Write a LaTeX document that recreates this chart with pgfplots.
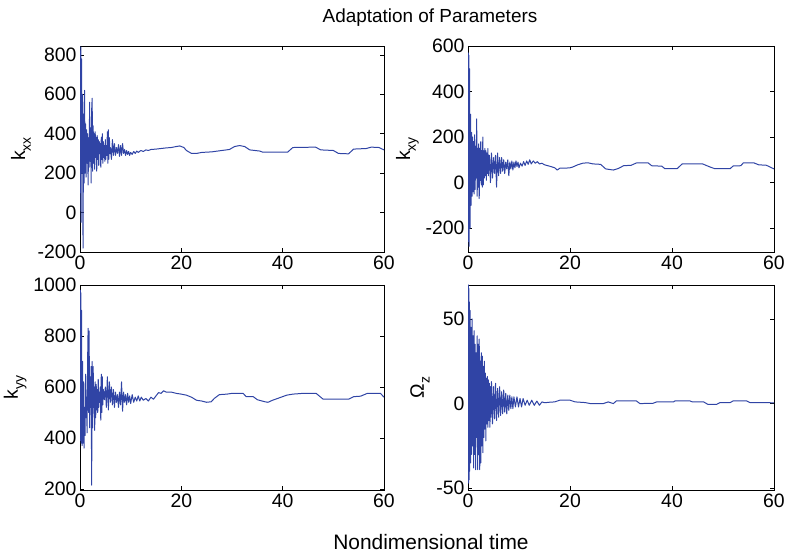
\documentclass[border=0pt]{standalone}
\usepackage{fontspec}
\setmainfont{Liberation Sans}
\usepackage{pgfplots}
\pgfplotsset{compat=1.18}
\definecolor{lineblue}{RGB}{48,68,165}
\newcommand{\sub}[1]{\raisebox{-0.55ex}{\fontsize{14}{16}\selectfont #1}}
\pgfplotsset{myax/.style={
  scale only axis, xmin=0, xmax=60, xtick={0,20,40,60},
  tick align=inside, major tick length=4bp,
  axis line style={line width=0.7pt},
  every tick/.style={black, line width=0.6pt},
  ticklabel style={font=\fontsize{19.5}{21}\selectfont},
  /pgf/number format/assume math mode=true,
  /pgf/number format/1000 sep={},
  ylabel style={font=\fontsize{19.5}{21}\selectfont},
  no markers,
  cycle list={{lineblue}},
  every axis plot post/.append style={line width=1.0pt, line join=round},
}}
\begin{document}
\begin{tikzpicture}
\path[use as bounding box] (0bp,0bp) rectangle (788bp,554bp);
\node[font=\fontsize{19}{21}\selectfont] at (430bp,536bp) {Adaptation of Parameters};
\node[font=\fontsize{21}{23}\selectfont] at (431bp,12bp) {Nondimensional time};
% k_xx
\begin{axis}[myax, at={(80bp,302bp)}, anchor=south west, width=304bp, height=206bp,
  ymin=-200, ymax=845, ytick={-200,0,200,400,600,800}, ylabel={k\sub{xx}}]
\addplot coordinates {(0.00,300)(0.05,820)(0.10,100)(0.15,840)(0.20,-50)(0.30,780)(0.40,200)(0.50,600)(0.60,-180)(0.70,500)(0.80,150)(0.90,620)(1.00,200)(1.10,450)(1.20,180)(1.30,420)(1.40,250)(1.50,400)(1.60,140)(1.70,380)(1.80,230)(1.90,560)(2.00,260)(2.10,430)(2.20,150)(2.30,520)(2.40,580)(2.50,210)(2.60,440)(2.70,250)(2.80,400)(2.90,220)(3.00,410)(3.10,280)(3.20,380)(3.30,210)(3.40,390)(3.50,270)(3.60,370)(3.70,240)(3.80,360)(3.90,300)(4.00,350)(4.10,230)(4.20,380)(4.30,270)(4.40,400)(4.50,250)(4.60,360)(4.70,280)(4.80,340)(4.90,260)(5.00,370)(5.10,270)(5.20,340)(5.30,290)(5.40,410)(5.50,250)(5.60,420)(5.70,270)(5.80,380)(5.90,300)(6.00,330)(6.20,270)(6.40,370)(6.60,290)(6.80,350)(7.00,290)(7.20,330)(7.40,300)(7.60,345)(7.80,285)(8.00,340)(8.20,290)(8.40,350)(8.60,300)(8.80,320)(9.00,290)(9.20,315)(9.40,295)(9.60,310)(9.80,290)(10.0,305)(10.3,295)(10.6,310)(10.9,300)(11.2,312)(11.5,305)(12.0,315)(12.5,310)(13.0,318)(13.5,315)(14.0,320)(15.0,322)(16.0,325)(17.0,328)(18.0,330)(19.0,335)(19.7,338)(20.5,330)(21.0,315)(22.0,300)(23.0,300)(24.0,305)(26.0,308)(28.0,315)(29.5,320)(30.5,335)(31.5,340)(32.5,335)(33.5,318)(35.5,312)(36.0,307)(41.0,307)(42.0,330)(46.5,332)(47.5,318)(50.0,315)(51.0,300)(53.0,298)(54.0,322)(56.5,325)(57.5,332)(59.0,330)(60.0,318)};
\end{axis}
% k_xy
\begin{axis}[myax, at={(468bp,302bp)}, anchor=south west, width=306bp, height=206bp,
  ymin=-305, ymax=600, ytick={-200,0,200,400,600}, ylabel={k\sub{xy}}]
\addplot coordinates {(0.00,0)(0.05,570)(0.10,-260)(0.15,560)(0.20,-280)(0.30,500)(0.40,-200)(0.50,300)(0.60,-100)(0.70,220)(0.80,-60)(0.90,200)(1.00,-40)(1.10,180)(1.20,-50)(1.30,210)(1.40,-30)(1.50,160)(1.60,20)(1.70,280)(1.80,-60)(1.90,150)(2.00,-20)(2.10,170)(2.20,-70)(2.30,150)(2.40,10)(2.50,180)(2.60,-10)(2.70,140)(2.80,-20)(2.90,200)(3.00,-10)(3.10,140)(3.20,20)(3.30,150)(3.40,30)(3.50,140)(3.60,10)(3.70,130)(3.80,40)(3.90,150)(4.00,30)(4.20,120)(4.40,0)(4.60,130)(4.80,20)(5.00,110)(5.20,40)(5.40,120)(5.60,-20)(5.80,130)(6.00,30)(6.20,110)(6.40,40)(6.60,110)(6.80,50)(7.00,100)(7.20,40)(7.40,90)(7.60,60)(7.80,100)(8.00,30)(8.20,90)(8.40,60)(8.60,95)(8.80,55)(9.00,90)(9.20,65)(9.40,95)(9.60,70)(9.80,90)(10.0,65)(10.3,85)(10.6,72)(10.9,92)(11.2,75)(11.5,95)(11.8,80)(12.1,100)(12.4,82)(12.8,95)(13.2,85)(13.6,92)(14.0,82)(14.5,85)(15.0,78)(16.0,72)(17.0,65)(17.5,55)(18.0,63)(19.0,63)(20.0,65)(20.5,68)(21.5,78)(22.5,85)(23.5,87)(24.5,82)(26.0,80)(27.0,60)(28.5,55)(29.5,62)(30.5,74)(32.0,76)(33.0,86)(35.3,87)(36.0,74)(38.0,72)(38.6,61)(41.0,61)(42.0,82)(46.0,82)(47.5,68)(48.4,61)(51.4,61)(52.0,73)(53.5,74)(54.0,87)(56.0,87)(57.0,78)(58.5,76)(60.0,60)};
\end{axis}
% k_yy
\begin{axis}[myax, at={(80bp,64bp)}, anchor=south west, width=304bp, height=205bp,
  ymin=196, ymax=1000, ytick={200,400,600,800,1000}, ylabel={k\sub{yy}}]
\addplot coordinates {(0.00,400)(0.05,980)(0.10,390)(0.15,970)(0.20,380)(0.30,900)(0.40,370)(0.50,700)(0.60,380)(0.70,620)(0.80,360)(0.90,520)(1.00,410)(1.10,650)(1.20,480)(1.30,560)(1.40,420)(1.50,700)(1.60,830)(1.70,500)(1.80,820)(1.90,440)(2.00,640)(2.10,520)(2.20,680)(2.30,215)(2.40,700)(2.50,440)(2.60,680)(2.70,520)(2.80,600)(2.90,430)(3.00,620)(3.10,480)(3.20,610)(3.30,510)(3.40,590)(3.50,500)(3.60,630)(3.70,520)(3.80,580)(3.90,540)(4.00,600)(4.10,470)(4.20,650)(4.30,500)(4.40,640)(4.50,530)(4.60,590)(4.80,550)(5.00,600)(5.20,520)(5.40,640)(5.60,510)(5.80,620)(6.00,540)(6.20,600)(6.40,530)(6.60,590)(6.80,520)(7.00,580)(7.20,540)(7.40,570)(7.60,520)(7.80,580)(8.00,530)(8.20,620)(8.40,505)(8.60,580)(8.80,540)(9.00,570)(9.20,530)(9.40,575)(9.60,540)(9.80,565)(10.0,535)(10.3,570)(10.6,540)(10.9,560)(11.2,545)(11.5,565)(11.8,545)(12.1,560)(12.5,548)(13.0,555)(13.5,545)(14.0,560)(14.5,552)(15.0,565)(15.5,578)(16.0,575)(16.5,585)(17.0,580)(18.0,580)(19.0,575)(20.0,572)(21.0,568)(22.0,560)(23.0,548)(24.0,545)(25.0,540)(25.9,542)(26.5,555)(27.5,570)(29.0,572)(30.0,575)(32.2,575)(32.8,562)(34.2,562)(35.0,550)(36.5,542)(37.1,540)(38.0,548)(39.0,555)(40.8,568)(42.0,572)(44.0,575)(46.6,575)(48.0,552)(53.0,552)(54.0,562)(55.4,564)(56.7,575)(59.3,575)(60.0,560)};
\end{axis}
% Omega_z
\begin{axis}[myax, at={(468bp,64bp)}, anchor=south west, width=306bp, height=205bp,
  ymin=-51, ymax=70, ytick={-50,0,50}, ylabel={Ω\sub{z}}]
\addplot coordinates {(0.00,0)(0.05,70)(0.10,-47)(0.15,68)(0.20,-45)(0.25,60)(0.30,-40)(0.40,55)(0.50,-35)(0.60,45)(0.70,-30)(0.80,50)(0.90,-25)(1.00,40)(1.10,-38)(1.20,43)(1.30,-30)(1.40,35)(1.50,-39)(1.60,30)(1.70,-20)(1.80,40)(1.90,-39)(2.00,35)(2.10,-30)(2.20,38)(2.30,-39)(2.40,25)(2.50,-35)(2.60,30)(2.70,-25)(2.80,28)(2.90,-29)(3.00,22)(3.10,-20)(3.20,25)(3.30,-15)(3.40,18)(3.50,-22)(3.60,15)(3.70,-12)(3.80,16)(3.90,-14)(4.00,14)(4.10,-10)(4.20,12)(4.30,-14)(4.40,10)(4.50,-8)(4.60,13)(4.80,-12)(5.00,10)(5.20,-9)(5.40,12)(5.60,-10)(5.80,9)(6.00,-8)(6.20,10)(6.40,-7)(6.60,7)(6.80,-6)(7.00,8)(7.20,-5)(7.40,6)(7.60,-6)(7.80,5)(8.00,-4)(8.20,5)(8.40,-3)(8.60,4)(8.80,-3)(9.00,4)(9.30,-2)(9.60,4)(9.90,-2)(10.2,3)(10.5,-2)(10.8,3)(11.2,-1)(11.6,2)(12.0,-1)(12.5,2)(13.0,-1)(13.5,1.5)(14.0,-1)(14.5,1)(15.0,0.5)(16.0,0.8)(17.0,1)(18.0,2)(20.0,2)(21.0,1)(23.0,0.6)(24.0,0)(26.5,0)(27.5,1)(28.5,0)(29.1,1.6)(33.0,1.6)(33.7,0)(36.3,0.2)(37.0,1)(40.3,1)(40.6,1.6)(43.5,1.6)(44.0,1)(46.2,1)(47.0,-0.4)(48.8,-0.4)(49.4,0.6)(51.4,0.6)(52.0,1.6)(54.6,1.6)(55.3,0.6)(58.5,0.6)(60.0,0.4)};
\end{axis}
\end{tikzpicture}
\end{document}
